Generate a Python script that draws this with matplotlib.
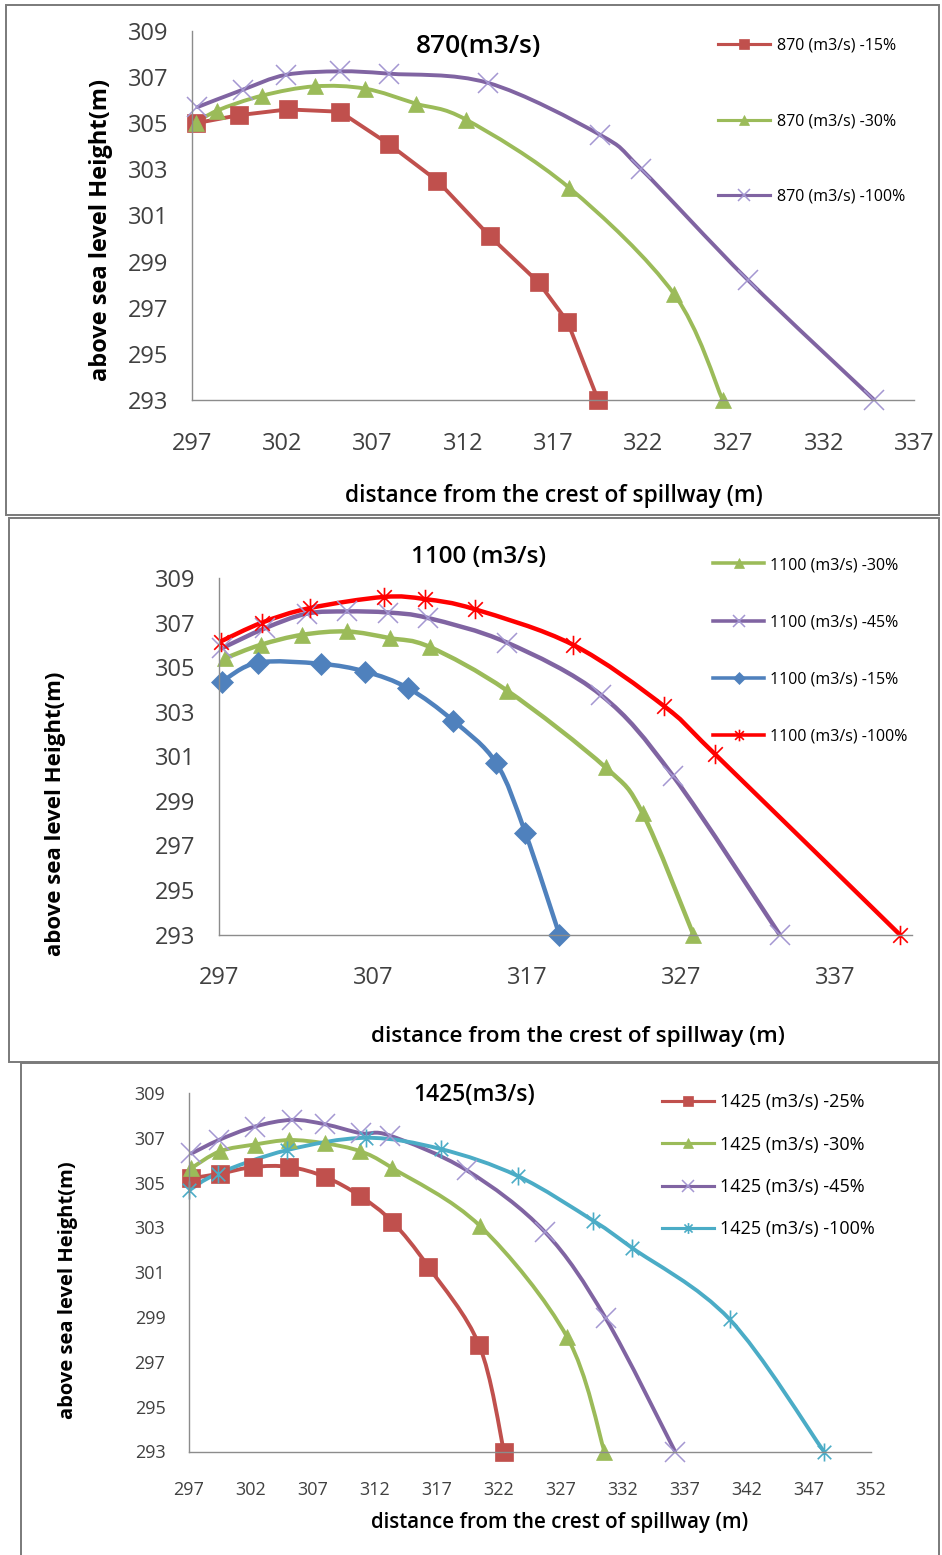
import numpy as np
import matplotlib
matplotlib.use("Agg")
import matplotlib.pyplot as plt
from matplotlib.path import Path
from matplotlib.patches import PathPatch, Rectangle
from matplotlib.lines import Line2D

plt.rcParams['font.family'] = ['Open Sans', 'DejaVu Sans']

# ---- 870 (m3/s) ----
q870_x15 = [297.2, 299.6, 302.3, 305.2, 307.9, 310.6, 313.5, 316.2, 317.8, 319.5]
q870_y15 = [305.0, 305.35, 305.6, 305.5, 304.1, 302.5, 300.1, 298.1, 296.4, 293.0]
q870_x30 = [297.2, 298.4, 300.9, 303.8, 306.6, 309.4, 312.2, 317.9, 323.7, 326.4]
q870_y30 = [305.0, 305.55, 306.2, 306.6, 306.5, 305.85, 305.15, 302.2, 297.6, 293.0]
q870_x100 = [297.3, 299.8, 302.2, 305.2, 307.9, 313.4, 319.6, 321.9, 327.8, 334.8]
q870_y100 = [305.7, 306.45, 307.1, 307.25, 307.15, 306.75, 304.5, 303.0, 298.2, 293.0]

# ---- 1100 (m3/s) ----
q1100_x30 = [297.4, 299.7, 302.4, 305.3, 308.1, 310.7, 315.7, 322.1, 324.5, 327.8]
q1100_y30 = [305.4, 306.0, 306.45, 306.6, 306.3, 305.9, 303.95, 300.5, 298.45, 293.0]
q1100_x45 = [297.2, 300.0, 302.7, 305.3, 308.0, 310.6, 315.7, 321.8, 326.5, 333.4]
q1100_y45 = [305.85, 306.75, 307.4, 307.5, 307.45, 307.2, 306.1, 303.75, 300.1, 293.0]
q1100_x15 = [297.2, 299.5, 303.6, 306.5, 309.3, 312.2, 315.0, 316.9, 319.1]
q1100_y15 = [304.35, 305.2, 305.15, 304.8, 304.05, 302.6, 300.7, 297.55, 293.0]
q1100_x100 = [297.1, 299.8, 302.9, 307.7, 310.4, 313.6, 320.0, 325.9, 329.2, 341.2]
q1100_y100 = [306.15, 307.0, 307.65, 308.15, 308.05, 307.6, 306.0, 303.25, 301.1, 293.0]

# ---- 1425 (m3/s) ----
q1425_x25 = [297.2, 299.5, 302.2, 305.1, 308.0, 310.8, 313.4, 316.3, 320.4, 322.4]
q1425_y25 = [305.2, 305.4, 305.7, 305.7, 305.25, 304.4, 303.25, 301.25, 297.75, 293.0]
q1425_x30 = [297.2, 299.5, 302.3, 305.1, 308.0, 310.8, 313.4, 320.5, 327.5, 330.5]
q1425_y30 = [305.65, 306.4, 306.7, 306.9, 306.75, 306.4, 305.65, 303.05, 298.1, 293.0]
q1425_x45 = [297.2, 299.4, 302.3, 305.3, 308.0, 310.9, 313.2, 319.4, 325.7, 330.6, 336.2]
q1425_y45 = [306.3, 306.9, 307.5, 307.8, 307.6, 307.2, 307.1, 305.55, 302.8, 298.95, 293.0]
q1425_x100 = [297.0, 299.3, 304.9, 311.3, 317.3, 323.5, 329.6, 332.7, 340.6, 348.2]
q1425_y100 = [304.65, 305.4, 306.45, 307.0, 306.5, 305.3, 303.3, 302.1, 298.9, 293.0]

y_ticks = [293, 295, 297, 299, 301, 303, 305, 307, 309]

RED = '#C0504D'
GREEN = '#9BBB59'
PURPLE = '#8064A2'
BLUE = '#4F81BD'
CYAN = '#4BACC6'
BRIGHT_RED = '#FF0000'

# asterisk marker: X with a vertical bar through it
STAR = Path([(0, -1), (0, 1), (-0.75, -0.75), (0.75, 0.75), (-0.75, 0.75), (0.75, -0.75)],
            [Path.MOVETO, Path.LINETO] * 3)

FIG_W, FIG_H = 942, 1555


def px_rect(left, top, right, bottom):
    return [left / FIG_W, 1 - bottom / FIG_H, (right - left) / FIG_W, (bottom - top) / FIG_H]


def smooth_path(x, y):
    # spreadsheet style smoothed line: cubic bezier through every point
    pts = np.column_stack([x, y]).astype(float)
    n = len(pts)
    verts = [pts[0]]
    codes = [Path.MOVETO]
    for i in range(n - 1):
        p0 = pts[i - 1] if i > 0 else pts[i]
        p1, p2 = pts[i], pts[i + 1]
        p3 = pts[i + 2] if i + 2 < n else pts[i + 1]
        verts += [p1 + (p2 - p0) / 6, p2 - (p3 - p1) / 6, p2]
        codes += [Path.CURVE4] * 3
    return Path(verts, codes)


def marker_style(kind, color, size):
    if kind == 's':
        return dict(marker='s', ms=size, mfc=color, mec=color, mew=0.5)
    if kind == '^':
        return dict(marker='^', ms=size, mfc=color, mec=color, mew=0.5)
    if kind == 'D':
        return dict(marker='D', ms=size, mfc=color, mec=color, mew=0.5)
    if kind == 'x':
        return dict(marker='x', ms=size, mec='#A497D2', mew=1.1)
    return dict(marker=STAR, ms=size, mec=color, mew=1.2, mfc='none')


def draw_series(ax, x, y, color, kind, lw, ms, smooth=True):
    if smooth:
        ax.add_patch(PathPatch(smooth_path(x, y), fill=False, edgecolor=color,
                               lw=lw, capstyle='round', joinstyle='round'))
    else:
        ax.plot(x, y, color=color, lw=lw, solid_joinstyle='round')
    ax.plot(x, y, ls='none', clip_on=False, **marker_style(kind, color, ms))
    return Line2D([], [], color=color, lw=lw * 0.8, **marker_style(kind, color, ms * 0.6))


def style_axes(ax, xlim, xticks, tick_fs, xpad):
    ax.set_xlim(*xlim)
    ax.set_ylim(293, 309)
    ax.set_xticks(xticks)
    ax.set_yticks(y_ticks)
    for side in ('top', 'right'):
        ax.spines[side].set_visible(False)
    for side in ('left', 'bottom'):
        ax.spines[side].set_color('#8c8c8c')
        ax.spines[side].set_linewidth(1.0)
    ax.tick_params(axis='x', length=0, pad=xpad, labelsize=tick_fs, labelcolor='#404040')
    ax.tick_params(axis='y', length=0, pad=17, labelsize=tick_fs, labelcolor='#404040')
    ax.set_facecolor('none')


fig = plt.figure(figsize=(FIG_W / 100, FIG_H / 100), dpi=100)
fig.patch.set_facecolor('white')

# panel frames
for left, top, right, bottom in [(6, 5, 939, 515), (9, 518, 939, 1062), (21, 1063, 939, 1560)]:
    fig.add_artist(Rectangle((left / FIG_W, 1 - bottom / FIG_H), (right - left) / FIG_W,
                             (bottom - top) / FIG_H, transform=fig.transFigure,
                             fill=False, edgecolor='#7a7a7a', lw=1.4))

# ---------- panel 1 ----------
ax1 = fig.add_axes(px_rect(192, 31, 914, 400))
style_axes(ax1, (297, 337), range(297, 338, 5), 17, 23)
h = [
    draw_series(ax1, q870_x15, q870_y15, RED, 's', 2.8, 13, smooth=False),
    draw_series(ax1, q870_x30, q870_y30, GREEN, '^', 2.8, 12),
    draw_series(ax1, q870_x100, q870_y100, PURPLE, 'x', 2.8, 14),
]
ax1.legend(h, ['870 (m3/s) -15%', '870 (m3/s) -30%', '870 (m3/s) -100%'],
           loc='upper left', bbox_to_anchor=(718 / FIG_W, 1 - 38 / FIG_H),
           bbox_transform=fig.transFigure, frameon=False, fontsize=11.5,
           labelspacing=3.7, handlelength=3.25, handletextpad=0.45,
           borderpad=0, borderaxespad=0)
ax1.text(0.3975, 0.957, '870(m3/s)', transform=ax1.transAxes, ha='center', va='center',
         fontsize=19, fontweight='semibold')
ax1.set_xlabel('distance from the crest of spillway (m)', fontsize=16.4,
               fontweight='semibold', va='center')
ax1.xaxis.set_label_coords(0.5007, -0.26)
ax1.set_ylabel('above sea level Height(m)', fontsize=17, fontweight='bold', va='center')
ax1.yaxis.set_label_coords(-0.126, 0.4607)

# ---------- panel 2 ----------
ax2 = fig.add_axes(px_rect(219, 578, 912, 934.5))
style_axes(ax2, (297, 342), range(297, 338, 10), 17, 23)
h = [
    draw_series(ax2, q1100_x30, q1100_y30, GREEN, '^', 3.2, 12),
    draw_series(ax2, q1100_x45, q1100_y45, PURPLE, 'x', 3.2, 14),
    draw_series(ax2, q1100_x15, q1100_y15, BLUE, 'D', 3.2, 11),
    draw_series(ax2, q1100_x100, q1100_y100, BRIGHT_RED, '*', 3.2, 14),
]
ax2.legend(h, ['1100 (m3/s) -30%', '1100 (m3/s) -45%', '1100 (m3/s) -15%', '1100 (m3/s) -100%'],
           loc='upper left', bbox_to_anchor=(713 / FIG_W, 1 - 557 / FIG_H),
           bbox_transform=fig.transFigure, frameon=False, fontsize=11.5,
           labelspacing=2.58, handlelength=3.2, handletextpad=0.4,
           borderpad=0, borderaxespad=0)
ax2.text(0.375, 1.059, '1100 (m3/s)', transform=ax2.transAxes, ha='center', va='center',
         fontsize=17.5, fontweight='semibold')
ax2.set_xlabel('distance from the crest of spillway (m)', fontsize=16.2,
               fontweight='semibold', va='center')
ax2.xaxis.set_label_coords(0.518, -0.2875)
ax2.set_ylabel('above sea level Height(m)', fontsize=16, fontweight='bold', va='center')
ax2.yaxis.set_label_coords(-0.2358, 0.338)

# ---------- panel 3 ----------
ax3 = fig.add_axes(px_rect(189, 1093, 871, 1451.5))
style_axes(ax3, (297, 352), range(297, 353, 5), 13, 21.5)
h = [
    draw_series(ax3, q1425_x25, q1425_y25, RED, 's', 2.8, 12.5),
    draw_series(ax3, q1425_x30, q1425_y30, GREEN, '^', 2.8, 11.5),
    draw_series(ax3, q1425_x45, q1425_y45, PURPLE, 'x', 2.8, 14),
    draw_series(ax3, q1425_x100, q1425_y100, CYAN, '*', 2.8, 13),
]
ax3.legend(h, ['1425 (m3/s) -25%', '1425 (m3/s) -30%', '1425 (m3/s) -45%', '1425 (m3/s) -100%'],
           loc='upper left', bbox_to_anchor=(662 / FIG_W, 1 - 1093.5 / FIG_H),
           bbox_transform=fig.transFigure, frameon=False, fontsize=13,
           labelspacing=1.34, handlelength=2.9, handletextpad=0.33,
           borderpad=0, borderaxespad=0)
ax3.text(0.418, 0.994, '1425(m3/s)', transform=ax3.transAxes, ha='center', va='center',
         fontsize=16.5, fontweight='semibold')
ax3.set_xlabel('distance from the crest of spillway (m)', fontsize=14.8,
               fontweight='semibold', va='center')
ax3.xaxis.set_label_coords(0.544, -0.1994)
ax3.set_ylabel('above sea level Height(m)', fontsize=14.5, fontweight='bold', va='center')
ax3.yaxis.set_label_coords(-0.178, 0.4505)

fig.savefig('out.png', dpi=100)
